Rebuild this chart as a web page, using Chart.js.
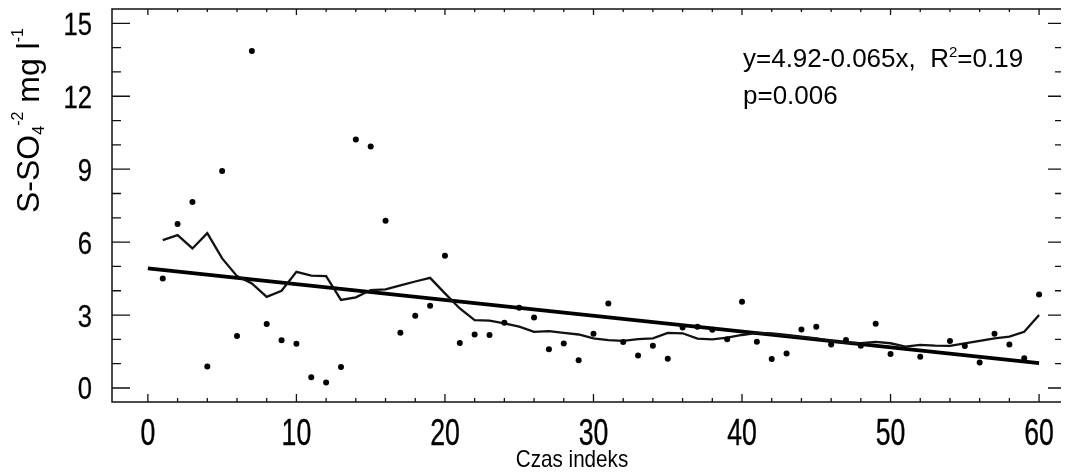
<!DOCTYPE html>
<html>
<head>
<meta charset="utf-8">
<script src="https://cdn.jsdelivr.net/npm/chart.js@4.4.1/dist/chart.umd.min.js"></script>
<style>
    html, body { margin: 0; padding: 0; background: #fff; overflow: hidden; }
    #wrap { width: 1065px; height: 476px; }
</style>
</head>
<body>
<div id="wrap"><canvas id="sulfChart" width="1065" height="476"></canvas></div>
<script>
// pomiary S-SO4 (indeks czasu 1..60), null = brak punktu
const timeIdx = [1,2,3,4,5,6,7,8,9,10,11,12,13,14,15,16,17,18,19,20,
    21,22,23,24,25,26,27,28,29,30,31,32,33,34,35,36,37,38,39,40,
    41,42,43,44,45,46,47,48,49,50,51,52,53,54,55,56,57,58,59,60];
const sulfate = [4.5,6.75,7.65,0.88,8.92,2.14,13.86,2.63,1.96,1.82,
    0.44,0.23,0.86,10.22,9.93,6.88,2.27,2.97,3.38,5.44,
    1.85,2.2,2.18,2.68,3.3,2.9,1.59,1.83,1.14,2.23,
    3.48,1.89,1.34,1.74,1.2,2.49,2.52,2.4,2.0,3.55,
    1.9,1.19,1.42,2.41,2.52,1.79,1.97,1.74,2.64,1.4,
    null,1.29,null,1.93,1.73,1.05,2.23,1.79,1.22,3.85];
// linia wygladzona
const smooth = [6.08,6.29,5.74,6.37,5.33,4.6,4.3,3.75,4.0,4.78,
    4.62,4.6,3.62,3.73,4.03,4.06,4.22,4.38,4.53,3.89,
    3.27,2.79,2.77,2.66,2.52,2.31,2.34,2.27,2.2,2.04,
    1.97,1.94,2.01,2.04,2.27,2.25,2.03,2.0,2.07,2.18,
    2.27,2.25,2.18,2.11,2.04,1.94,1.86,1.84,1.9,1.84,
    1.7,1.77,1.74,1.73,1.84,1.94,2.04,2.11,2.31,3.0];
// trend liniowy (koncowki)
const trendX = [0, 60];
const trendY = [4.92, 1.02];

const xTickLabels = [0, 10, 20, 30, 40, 50, 60];
const yTickLabels = [0, 3, 6, 9, 12, 15];

const SANS = "'Liberation Sans', Arial, sans-serif";

const toPts = (xs, ys) => xs.map((x, i) => ({ x, y: ys[i] })).filter(p => p.y !== null);

// tekst zwezony (brak kroju Narrow w systemie), opcjonalnie lekki obrys
function narrowText(ctx, text, x, y, size, sx, align, weight) {
    ctx.save();
    ctx.font = size + 'px ' + SANS;
    const w = ctx.measureText(text).width * sx;
    let left = x;
    if (align === 'center') left = x - w / 2;
    if (align === 'right') left = x - w;
    ctx.translate(left, y);
    ctx.scale(sx, 1);
    ctx.textAlign = 'left';
    ctx.fillText(text, 0, 0);
    if (weight) {
        ctx.lineWidth = weight;
        ctx.strokeStyle = '#000';
        ctx.strokeText(text, 0, 0);
    }
    ctx.restore();
}

// ramka, znaczniki do srodka, etykiety osi
const framePlugin = {
    id: 'frameTicks',
    afterDraw(chart) {
        const { ctx, chartArea: a, scales: { x, y } } = chart;
        ctx.save();
        ctx.strokeStyle = '#111';
        ctx.lineWidth = 1.5;
        ctx.beginPath();
        ctx.moveTo(a.right, a.top); ctx.lineTo(a.left, a.top);
        ctx.lineTo(a.left, a.bottom); ctx.lineTo(a.right, a.bottom);
        ctx.stroke();

        ctx.lineWidth = 1.3;
        ctx.beginPath();
        for (let v = 0; v <= 60; v += 2) {
            const px = x.getPixelForValue(v);
            const major = v % 10 === 0;
            ctx.moveTo(px, a.bottom); ctx.lineTo(px, a.bottom - (major ? 8 : 4));
            ctx.moveTo(px, a.top); ctx.lineTo(px, a.top + (major ? 6 : 3));
        }
        for (let v = 0; v <= 15; v += 1) {
            const py = y.getPixelForValue(v);
            const major = v % 3 === 0;
            ctx.moveTo(a.left, py); ctx.lineTo(a.left + (major ? 18 : 9), py);
            ctx.moveTo(a.right, py); ctx.lineTo(a.right - (major ? 13 : 6), py);
        }
        ctx.stroke();

        ctx.fillStyle = '#000';
        ctx.textBaseline = 'alphabetic';
        x.ticks.forEach(t => narrowText(ctx, String(t.value), x.getPixelForValue(t.value), 445, 36, 0.74, 'center', 0.35));
        y.ticks.forEach(t => narrowText(ctx, String(t.value), 92, y.getPixelForValue(t.value) + 11.5, 32, 0.8, 'right', 0.3));
        narrowText(ctx, 'Czas indeks', 572, 467, 24, 0.86, 'center', 0);

        // rownanie regresji
        ctx.font = '26px ' + SANS;
        let tx = 743;
        const s1 = 'y=4.92-0.065x,  R';
        ctx.fillText(s1, tx, 67);
        tx += ctx.measureText(s1).width;
        ctx.font = '15px ' + SANS;
        ctx.fillText('2', tx, 57);
        tx += ctx.measureText('2').width;
        ctx.font = '26px ' + SANS;
        ctx.fillText('=0.19', tx, 67);
        ctx.fillText('p=0.006', 743, 104);

        // opis osi Y z indeksami
        ctx.translate(39, 213);
        ctx.rotate(-Math.PI / 2);
        const parts = [
            ['S-SO', 32, 0],
            ['4', 16, 5],
            ['-2', 16, -16],
            [' mg l', 32, 0],
            ['-1', 16, -16]
        ];
        let lx = 0;
        parts.forEach(([t, size, dy]) => {
            ctx.font = size + 'px ' + SANS;
            ctx.fillText(t, lx, dy);
            lx += ctx.measureText(t).width;
        });
        ctx.restore();
    }
};

new Chart(document.getElementById('sulfChart'), {
    type: 'scatter',
    data: {
        datasets: [
            {
                label: 'S-SO4',
                data: toPts(timeIdx, sulfate),
                pointRadius: 3,
                pointBackgroundColor: '#000',
                pointBorderWidth: 0,
                showLine: false
            },
            {
                label: 'wygladzona',
                data: toPts(timeIdx, smooth),
                showLine: true,
                pointRadius: 0,
                borderColor: '#111',
                borderWidth: 2.3,
                tension: 0
            },
            {
                label: 'trend',
                data: toPts(trendX, trendY),
                showLine: true,
                pointRadius: 0,
                borderColor: '#000',
                borderWidth: 3.8
            }
        ]
    },
    options: {
        responsive: false,
        animation: false,
        layout: { padding: { left: 0, top: 9, right: 1, bottom: 0 } },
        plugins: { legend: { display: false }, tooltip: { enabled: false } },
        scales: {
            x: {
                type: 'linear',
                min: -2.416,
                max: 61.476,
                afterFit: s => { s.height = 74; },
                afterBuildTicks: s => { s.ticks = xTickLabels.map(v => ({ value: v })); },
                grid: { display: false, drawTicks: false },
                border: { display: false },
                ticks: { display: false }
            },
            y: {
                min: -0.576,
                max: 15.588,
                afterFit: s => { s.width = 112; },
                afterBuildTicks: s => { s.ticks = yTickLabels.map(v => ({ value: v })); },
                grid: { display: false, drawTicks: false },
                border: { display: false },
                ticks: { display: false }
            }
        }
    },
    plugins: [framePlugin]
});
</script>
</body>
</html>
